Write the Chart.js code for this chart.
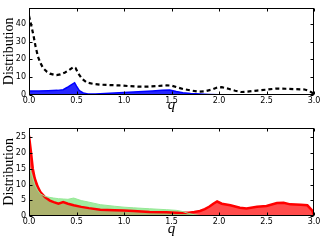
<!DOCTYPE html>
<html>
<head>
<meta charset="utf-8">
<script src="https://cdn.jsdelivr.net/npm/chart.js@4"></script>
<style>
  html, body { margin: 0; padding: 0; background: #fff; }
  canvas { display: block; }
</style>
</head>
<body>
<canvas id="top" width="327" height="120"></canvas>
<canvas id="bottom" width="327" height="125"></canvas>
<script>
// ---- Data ----
const xTickLabels = ['0.0', '0.5', '1.0', '1.5', '2.0', '2.5', '3.0'];

// Top panel: dashed black curve
const qTopDashed = [0, 0.02, 0.045, 0.07, 0.095, 0.12, 0.15, 0.19, 0.22, 0.26, 0.29, 0.33, 0.38, 0.42, 0.47, 0.49, 0.52, 0.56, 0.61, 0.68, 0.75, 0.85, 0.95, 1.05, 1.15, 1.25, 1.35, 1.45, 1.5, 1.55, 1.62, 1.7, 1.78, 1.85, 1.92, 1.98, 2.03, 2.1, 2.17, 2.23, 2.3, 2.4, 2.5, 2.6, 2.7, 2.8, 2.9, 2.95, 3.0];
const dashedValues = [44.5, 40, 34, 27, 21.5, 18, 15, 13, 12, 11.4, 11.2, 11.6, 12.7, 14, 15.8, 15.2, 12, 9, 7, 6.2, 5.8, 5.6, 5.4, 5.0, 4.7, 4.7, 5.0, 5.4, 5.3, 4.5, 3.4, 2.6, 1.9, 2.1, 3.0, 4.2, 4.4, 3.5, 2.4, 1.7, 1.9, 2.5, 3.0, 3.6, 3.5, 3.3, 3.1, 2.3, 0.6];

// Top panel: blue filled distribution
const qTopBlue = [0, 0.1, 0.2, 0.3, 0.36, 0.4, 0.44, 0.48, 0.5, 0.53, 0.57, 0.62, 0.7, 0.8, 0.9, 1.0, 1.1, 1.2, 1.3, 1.4, 1.48, 1.55, 1.62, 1.7, 1.8, 1.9, 2.0, 2.2, 2.5, 2.8, 3.0];
const blueValues = [2.2, 2.3, 2.4, 2.6, 3.0, 4.2, 5.6, 6.9, 5.0, 2.5, 1.2, 0.6, 0.5, 0.8, 1.1, 1.4, 1.7, 1.9, 2.2, 2.6, 2.8, 2.0, 1.3, 0.8, 0.5, 0.3, 0.2, 0.1, 0.05, 0.05, 0.05];

// Bottom panel: red and green distributions on a shared q grid
const qBottom = [0, 0.02, 0.04, 0.06, 0.09, 0.12, 0.17, 0.22, 0.26, 0.31, 0.36, 0.41, 0.47, 0.55, 0.63, 0.75, 0.9, 1.0, 1.1, 1.27, 1.45, 1.55, 1.62, 1.68, 1.74, 1.8, 1.85, 1.9, 1.94, 1.98, 2.03, 2.12, 2.22, 2.29, 2.4, 2.5, 2.61, 2.68, 2.75, 2.86, 2.93, 2.98, 3.0];
const redValues = [25.5, 20.5, 15, 12, 9.4, 7.6, 5.9, 4.9, 4.4, 3.9, 4.4, 3.9, 3.4, 2.9, 2.5, 2.0, 1.85, 1.75, 1.6, 1.3, 1.2, 1.05, 1.0, 1.05, 1.3, 1.6, 2.2, 3.0, 3.9, 4.6, 3.9, 3.4, 2.6, 2.4, 2.9, 3.2, 4.1, 4.2, 3.7, 3.6, 3.4, 1.8, 0.3];
const greenValues = [16.5, 14, 12, 10, 8.2, 7, 6.2, 5.9, 5.7, 5.5, 5.4, 5.3, 5.7, 4.9, 4.4, 3.6, 3.1, 2.8, 2.6, 2.3, 2.0, 1.8, 1.4, 0.8, 0.4, 0.15, 0.05, 0, 0, 0, 0, 0, 0, 0, 0, 0, 0, 0, 0, 0, 0, 0, 0];

// ---- helpers ----
const pts = (xs, ys) => xs.map((x, i) => ({ x: x, y: ys[i] }));
const overlapValues = redValues.map((v, i) => Math.min(v, greenValues[i]));

const framePlugin = {
  id: 'frame',
  afterDatasetsDraw(chart) {
    const ctx = chart.ctx;
    const a = chart.chartArea;
    const xs = chart.scales.x, ys = chart.scales.y;
    ctx.save();
    ctx.strokeStyle = '#000';
    ctx.lineWidth = 1;
    const L = Math.round(a.left) + 0.5, R = Math.round(a.right) - 0.5;
    const T = Math.round(a.top) + 0.5, B = Math.round(a.bottom) - 0.5;
    ctx.strokeRect(L, T, R - L, B - T);
    ctx.beginPath();
    xs.ticks.forEach(t => {
      const px = Math.round(xs.getPixelForValue(t.value)) + 0.5;
      ctx.moveTo(px, B); ctx.lineTo(px, B - 3);
      ctx.moveTo(px, T); ctx.lineTo(px, T + 3);
    });
    ys.ticks.forEach(t => {
      const py = Math.round(ys.getPixelForValue(t.value)) + 0.5;
      ctx.moveTo(L, py); ctx.lineTo(L + 3, py);
      ctx.moveTo(R, py); ctx.lineTo(R - 3, py);
    });
    ctx.stroke();
    ctx.restore();
  }
};

function makeOptions(yMax, yStep, xAxisHeight, qPad) {
  return {
    responsive: false,
    animation: false,
    events: [],
    layout: { padding: { top: 5, right: 13, left: 0, bottom: 0 } },
    plugins: {
      legend: { display: false },
      tooltip: { enabled: false },
      filler: { drawTime: 'beforeDatasetsDraw' }
    },
    elements: { point: { radius: 0 }, line: { tension: 0 } },
    scales: {
      x: {
        type: 'linear', min: 0, max: 3,
        grid: { display: false, drawTicks: false },
        border: { display: false },
        ticks: {
          stepSize: 0.5, padding: 1, maxRotation: 0, autoSkip: false,
          color: '#000', font: { family: 'DejaVu Sans', size: 8 },
          callback: (v) => xTickLabels[Math.round(v * 2)] ?? ''
        },
        title: {
          display: true, text: 'q', color: '#000',
          font: { family: 'Liberation Serif', size: 15, style: 'italic' },
          padding: { top: 0, bottom: qPad }
        },
        afterFit: (s) => { s.height = xAxisHeight; }
      },
      y: {
        min: 0, max: yMax,
        grid: { display: false, drawTicks: false },
        border: { display: false },
        afterBuildTicks: (s) => { s.ticks = s.ticks.filter(t => Math.abs(t.value % yStep) < 1e-9); },
        ticks: {
          stepSize: yStep, padding: 3,
          color: '#000', font: { family: 'DejaVu Sans', size: 8 }
        },
        title: {
          display: true, text: 'Distribution', color: '#000',
          font: { family: 'Liberation Serif', size: 14 },
          padding: { top: 1, bottom: 0 }
        },
        afterFit: (s) => { s.width = 29; }
      }
    }
  };
}

new Chart(document.getElementById('top'), {
  type: 'line',
  data: {
    datasets: [
      {
        data: pts(qTopDashed, dashedValues),
        borderColor: '#000', borderWidth: 2.2, borderDash: [4, 3],
        fill: false
      },
      {
        data: pts(qTopBlue, blueValues),
        borderColor: '#0000ff', borderWidth: 1.5,
        backgroundColor: 'rgba(0,0,255,0.85)',
        fill: 'origin'
      }
    ]
  },
  options: makeOptions(49, 10, 25, 6),
  plugins: [framePlugin]
});

new Chart(document.getElementById('bottom'), {
  type: 'line',
  data: {
    datasets: [
      {
        data: pts(qBottom, overlapValues),
        borderWidth: 0, borderColor: 'rgba(0,0,0,0)',
        backgroundColor: 'rgb(172,178,110)',
        fill: 'origin'
      },
      {
        data: pts(qBottom, greenValues),
        borderWidth: 1, borderColor: 'rgb(150,232,150)',
        backgroundColor: 'rgb(160,236,160)',
        fill: 'origin'
      },
      {
        data: pts(qBottom, redValues),
        borderColor: 'rgb(255,0,0)', borderWidth: 2.5,
        backgroundColor: 'rgba(255,0,0,0.7)',
        fill: 'origin'
      }
    ]
  },
  options: makeOptions(28, 5, 29, 7),
  plugins: [framePlugin]
});
</script>
</body>
</html>
